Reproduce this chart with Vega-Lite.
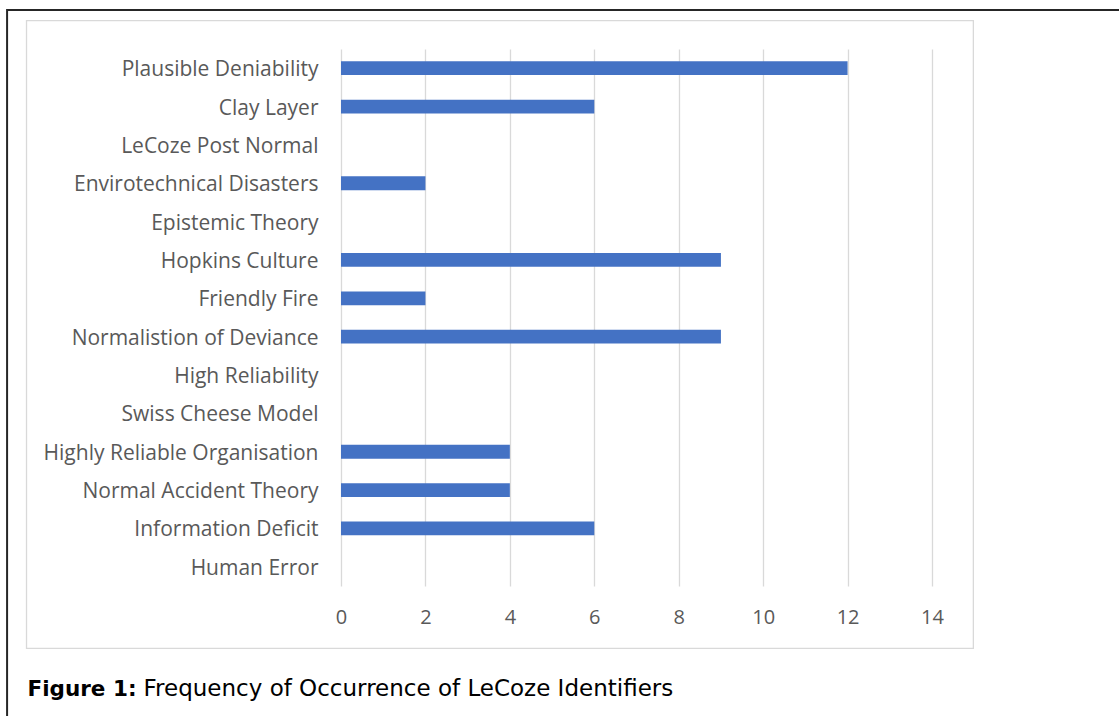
{
  "$schema": "https://vega.github.io/schema/vega-lite/v6.json",
  "width": 591,
  "height": 537,
  "autosize": "none",
  "padding": {"left": 341, "top": 49, "right": 187, "bottom": 130},
  "background": "white",
  "config": {"view": {"stroke": null}, "font": "Open Sans"},
  "data": {
    "values": [
      {"identifier": "Plausible Deniability", "count": 12},
      {"identifier": "Clay Layer", "count": 6},
      {"identifier": "LeCoze Post Normal", "count": 0},
      {"identifier": "Envirotechnical Disasters", "count": 2},
      {"identifier": "Epistemic Theory", "count": 0},
      {"identifier": "Hopkins Culture", "count": 9},
      {"identifier": "Friendly Fire", "count": 2},
      {"identifier": "Normalistion of Deviance", "count": 9},
      {"identifier": "High Reliability", "count": 0},
      {"identifier": "Swiss Cheese Model", "count": 0},
      {"identifier": "Highly Reliable Organisation", "count": 4},
      {"identifier": "Normal Accident Theory", "count": 4},
      {"identifier": "Information Deficit", "count": 6},
      {"identifier": "Human Error", "count": 0}
    ]
  },
  "layer": [
    {
      "data": {"values": [{}]},
      "mark": {"type": "rect", "fill": null, "stroke": "#d9d9d9", "strokeWidth": 1.3},
      "encoding": {
        "x": {"datum": -7.45, "type": "quantitative", "scale": {"domain": [0, 14]}, "axis": null},
        "x2": {"datum": 14.98},
        "y": {"datum": 14.24, "type": "quantitative", "scale": {"domain": [-0.5, 13.5]}, "axis": null},
        "y2": {"datum": -2.124}
      }
    },
    {
      "data": {"values": [{}]},
      "mark": {"type": "rect", "fill": null, "stroke": "#262626", "strokeWidth": 2},
      "encoding": {
        "x": {"datum": -7.91, "type": "quantitative", "scale": {"domain": [0, 14]}, "axis": null},
        "x2": {"datum": 30},
        "y": {"datum": 14.52, "type": "quantitative", "scale": {"domain": [-0.5, 13.5]}, "axis": null},
        "y2": {"datum": -10}
      }
    },
    {
      "mark": {"type": "bar", "color": "#4472C4"},
      "encoding": {
        "y": {
          "field": "identifier",
          "type": "nominal",
          "sort": null,
          "scale": {"paddingInner": 0.64, "paddingOuter": 0.32},
          "axis": {
            "title": "Figure 1:",
            "titleAngle": 0,
            "titleX": -314,
            "titleY": 646,
            "titleAlign": "left",
            "titleBaseline": "alphabetic",
            "titleFont": "DejaVu Sans",
            "titleFontSize": 21.5,
            "titleFontWeight": "bold",
            "titleColor": "#000000",
            "labelFontSize": 21,
            "labelColor": "#595959",
            "labelPadding": 23,
            "labelOffset": 2,
            "labelLimit": 400,
            "ticks": false,
            "tickSize": 0,
            "domain": false,
            "grid": false
          }
        },
        "x": {
          "field": "count",
          "type": "quantitative",
          "scale": {"domain": [0, 14]},
          "axis": {
            "title": "Frequency of Occurrence of LeCoze Identifiers",
            "titleX": -198,
            "titleY": 109,
            "titleAlign": "left",
            "titleBaseline": "alphabetic",
            "titleFont": "DejaVu Sans",
            "titleFontSize": 23,
            "titleFontWeight": "normal",
            "titleColor": "#000000",
            "values": [0, 2, 4, 6, 8, 10, 12, 14],
            "grid": true,
            "gridColor": "#d9d9d9",
            "gridWidth": 1.3,
            "domain": false,
            "ticks": false,
            "tickSize": 0,
            "labelFlush": false,
            "labelPadding": 21,
            "labelFontSize": 20,
            "labelColor": "#595959"
          }
        }
      }
    }
  ],
  "resolve": {"scale": {"x": "independent", "y": "independent"}}
}
